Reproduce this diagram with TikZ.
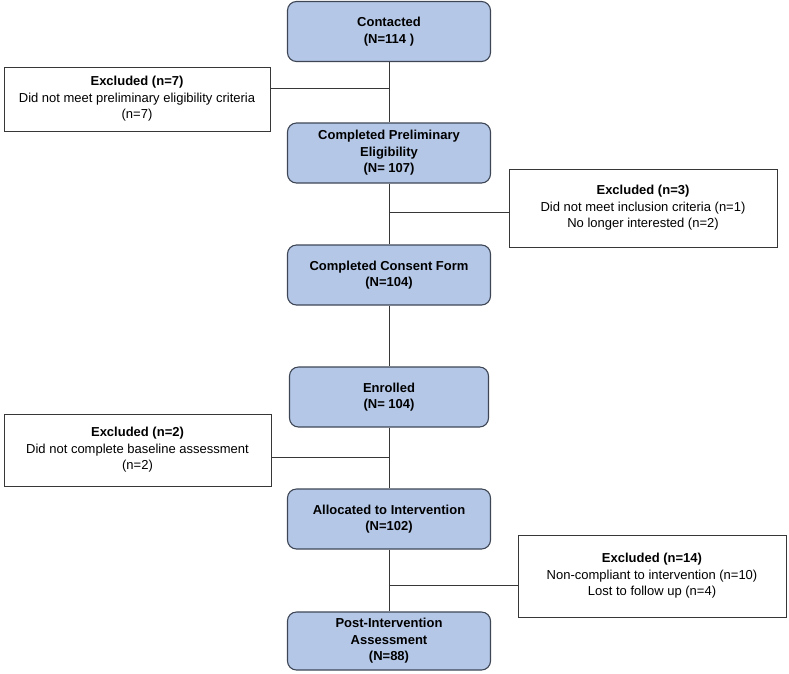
\documentclass[tikz,border=0pt]{standalone}
\usepackage{fontspec}
\setmainfont{Liberation Sans}
\definecolor{boxfill}{RGB}{180,199,231}
\definecolor{boxborder}{RGB}{62,70,86}
\definecolor{exborder}{RGB}{55,55,55}
\definecolor{linecol}{RGB}{55,55,55}
\tikzset{
  txt/.style={font=\fontsize{13}{16.5}\selectfont},
  flowbox/.style={txt, draw=boxborder, fill=boxfill, rounded corners=9pt, line width=1.1pt,
    align=center, inner sep=0pt, minimum width=203pt, minimum height=60pt, font=\fontsize{13}{16.5}\selectfont\bfseries},
  exclbox/.style={txt, draw=exborder, fill=white, line width=1pt, align=center, inner sep=0pt},
  link/.style={draw=linecol, line width=1pt}
}
\begin{document}
\begin{tikzpicture}[x=1pt,y=-1pt]
\useasboundingbox (0,0) rectangle (789,673);
% main flow
\node[flowbox] (b1) at (389,31.5) {Contacted\\(N=114 )};
\node[flowbox] (b2) at (389,153) {Completed Preliminary\\Eligibility\\(N= 107)};
\node[flowbox] (b3) at (389,275) {Completed Consent Form\\(N=104)};
\node[flowbox, minimum width=199pt] (b4) at (389,397) {Enrolled\\(N= 104)};
\node[flowbox] (b5) at (389,519) {Allocated to Intervention\\(N=102)};
\node[flowbox, minimum height=58pt] (b6) at (389,641) {Post-Intervention\\Assessment\\(N=88)};
% exclusion boxes
\node[exclbox, minimum width=266pt, minimum height=64pt] (e1) at (137,99)
  {\textbf{Excluded (n=7)}\\Did not meet preliminary eligibility criteria\\(n=7)};
\node[exclbox, minimum width=268pt, minimum height=78pt] (e2) at (643,208)
  {\textbf{Excluded (n=3)}\\Did not meet inclusion criteria (n=1)\\No longer interested (n=2)};
\node[exclbox, minimum width=267pt, minimum height=72pt] (e3) at (137.5,450)
  {\textbf{Excluded (n=2)}\\Did not complete baseline assessment\\(n=2)};
\node[exclbox, minimum width=268pt, minimum height=82pt] (e4) at (652,576)
  {\textbf{Excluded (n=14)}\\Non-compliant to intervention (n=10)\\Lost to follow up (n=4)};
% spine
\draw[link] (b1.south) -- (b2.north);
\draw[link] (b2.south) -- (b3.north);
\draw[link] (b3.south) -- (b4.north);
\draw[link] (b4.south) -- (b5.north);
\draw[link] (b5.south) -- (b6.north);
% branches
\coordinate (j1) at (389,88);
\coordinate (j2) at (389,212);
\coordinate (j3) at (389,457);
\coordinate (j4) at (389,585);
\draw[link] (j1) -- (j1 -| e1.east);
\draw[link] (j2) -- (j2 -| e2.west);
\draw[link] (j3) -- (j3 -| e3.east);
\draw[link] (j4) -- (j4 -| e4.west);
\end{tikzpicture}
\end{document}
